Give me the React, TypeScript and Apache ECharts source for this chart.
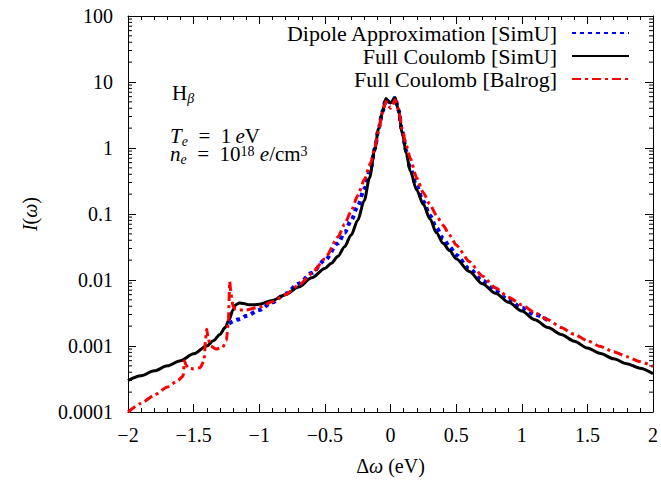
import React, { useEffect, useRef } from "react";
import * as echarts from "echarts";

// ---- data ----
const dipoleX = [-1.23, -1.15, -1.1, -1.0, -0.9, -0.8, -0.7, -0.6, -0.5, -0.4, -0.35, -0.3, -0.25, -0.2, -0.15, -0.12, -0.09, -0.06, -0.035, -0.015, 0, 0.015, 0.035, 0.06, 0.09, 0.12, 0.15, 0.2, 0.25, 0.3, 0.35, 0.4, 0.45, 0.5, 0.6, 0.7, 0.8, 0.9, 1.0, 1.1, 1.22];
const dipoleY = [2.2e-3, 2.55e-3, 2.85e-3, 3.5e-3, 4.6e-3, 6.2e-3, 8.8e-3, 0.0128, 0.02, 0.036, 0.052, 0.08, 0.13, 0.24, 0.5, 0.97, 2.0, 3.6, 5.6, 5.0, 4.8, 5.1, 5.8, 3.8, 1.75, 0.9, 0.5, 0.26, 0.155, 0.095, 0.062, 0.043, 0.032, 0.024, 0.0148, 0.0098, 0.0068, 0.005, 0.0038, 0.003, 0.0023];

const fcSimUX = [-2, -1.9, -1.8, -1.7, -1.6, -1.5, -1.4, -1.35, -1.3, -1.26, -1.23, -1.2, -1.18, -1.15, -1.12, -1.08, -1.04, -1.0, -0.9, -0.8, -0.7, -0.6, -0.5, -0.45, -0.4, -0.35, -0.3, -0.25, -0.2, -0.16, -0.12, -0.09, -0.06, -0.035, -0.015, 0, 0.015, 0.035, 0.06, 0.09, 0.12, 0.15, 0.2, 0.25, 0.3, 0.35, 0.4, 0.45, 0.5, 0.6, 0.7, 0.8, 0.9, 1.0, 1.1, 1.2, 1.3, 1.4, 1.5, 1.6, 1.7, 1.8, 1.9, 2.0];
const fcSimUY = [3.0e-4, 3.55e-4, 4.2e-4, 5.0e-4, 6.0e-4, 7.6e-4, 1.0e-3, 1.2e-3, 1.5e-3, 1.9e-3, 2.5e-3, 3.5e-3, 4.2e-3, 4.5e-3, 4.4e-3, 4.2e-3, 4.2e-3, 4.3e-3, 4.9e-3, 6.0e-3, 7.8e-3, 1.08e-2, 1.5e-2, 1.8e-2, 2.3e-2, 3.2e-2, 4.8e-2, 8.0e-2, 0.16, 0.35, 0.95, 2.0, 3.6, 5.6, 5.0, 4.8, 5.1, 5.8, 3.8, 1.7, 0.85, 0.45, 0.23, 0.14, 0.085, 0.052, 0.036, 0.028, 0.021, 0.0135, 0.0088, 0.0063, 0.0046, 0.0034, 0.0025, 0.0019, 0.0015, 0.00118, 0.00093, 0.00077, 0.00064, 0.00054, 0.00046, 0.00038];

const balrogX = [-2, -1.9, -1.8, -1.7, -1.62, -1.58, -1.57, -1.56, -1.54, -1.5, -1.45, -1.42, -1.41, -1.40, -1.39, -1.37, -1.33, -1.28, -1.25, -1.235, -1.225, -1.215, -1.2, -1.18, -1.15, -1.1, -1.0, -0.9, -0.8, -0.7, -0.6, -0.5, -0.4, -0.35, -0.3, -0.25, -0.2, -0.15, -0.12, -0.09, -0.06, -0.035, -0.015, 0, 0.015, 0.035, 0.06, 0.09, 0.12, 0.15, 0.2, 0.25, 0.3, 0.35, 0.4, 0.45, 0.5, 0.6, 0.7, 0.8, 0.9, 1.0, 1.1, 1.2, 1.3, 1.4, 1.5, 1.6, 1.7, 1.8, 1.9, 2.0];
const balrogY = [1.0e-4, 1.35e-4, 1.8e-4, 2.4e-4, 3.0e-4, 3.5e-4, 6.0e-4, 5.2e-4, 4.6e-4, 4.5e-4, 4.7e-4, 6e-4, 1.2e-3, 1.8e-3, 1.3e-3, 1.0e-3, 9.0e-4, 9.5e-4, 1.2e-3, 2.5e-3, 9.5e-3, 6.0e-3, 4.0e-3, 3.6e-3, 3.5e-3, 3.5e-3, 3.9e-3, 4.7e-3, 6.0e-3, 8.3e-3, 0.0125, 0.021, 0.045, 0.07, 0.11, 0.19, 0.33, 0.6, 1.0, 1.9, 3.5, 5.1, 4.4, 4.0, 4.5, 5.4, 3.9, 1.9, 1.1, 0.7, 0.35, 0.21, 0.14, 0.095, 0.068, 0.048, 0.034, 0.019, 0.0115, 0.0076, 0.0055, 0.0042, 0.0032, 0.0025, 0.0019, 0.0015, 0.0012, 0.00098, 0.00082, 0.00069, 0.00058, 0.00049];

const seriesNames = ["Dipole Approximation [SimU]", "Full Coulomb [SimU]", "Full Coulomb [Balrog]"];
const xMin = -2;
const xMax = 2;
const yMin = 1e-4;
const yMax = 100;
const decades = [1e-4, 1e-3, 1e-2, 1e-1, 1, 10];
const minorMultipliers = [2, 3, 4, 5, 6, 7, 8, 9];

const FONT = "'Liberation Serif', 'DejaVu Serif', serif";
const FS = 20;
const LFS = 22;
const AFS = 21;

const pairs = (xs: number[], ys: number[]) => xs.map((x, i) => [x, ys[i]]);

const fmtX = (v: number) => {
  const s = String(Math.round(v * 10) / 10);
  return s.replace("-", "\u2212");
};
const fmtY = (v: number) => {
  const e = Math.round(Math.log10(v));
  return e >= 0 ? String(Math.pow(10, e)) : "0." + "0".repeat(-e - 1) + "1";
};

export default function App() {
  const ref = useRef<HTMLDivElement>(null);
  useEffect(() => {
    if (!ref.current) return;
    const chart = echarts.init(ref.current, null, { renderer: "svg" });

    const minorVals: number[][] = [];
    decades.forEach((d) => minorMultipliers.forEach((m) => minorVals.push([xMin, d * m])));

    const commonX = {
      type: "value",
      min: xMin,
      max: xMax,
      interval: 0.5,
      axisLine: { show: true, onZero: false, lineStyle: { color: "#000", width: 1 } },
      axisTick: { show: true, inside: true, length: 8, lineStyle: { color: "#000" } },
      minorTick: { show: true, splitNumber: 5, length: 4, lineStyle: { color: "#000" } },
      splitLine: { show: false },
    };
    const commonY = {
      type: "log",
      logBase: 10,
      min: yMin,
      max: yMax,
      splitNumber: 6,
      axisLine: { show: true, onZero: false, lineStyle: { color: "#000", width: 1 } },
      axisTick: { show: true, inside: true, length: 8, lineStyle: { color: "#000" } },
      splitLine: { show: false },
    };

    const richMain = {
      r: { fontFamily: FONT, fontSize: AFS, lineHeight: 18, fill: "#000" },
      i: { fontFamily: FONT, fontSize: AFS, lineHeight: 18, fontStyle: "italic", fill: "#000" },
      sub: { fontFamily: FONT, fontSize: 14, lineHeight: 10, fontStyle: "italic", verticalAlign: "top", padding: [8, 0, 0, 0], fill: "#000" },
      sup: { fontFamily: FONT, fontSize: 14, lineHeight: 10, verticalAlign: "top", fill: "#000" },
    };

    const option: any = {
      animation: false,
      backgroundColor: "#fff",
      grid: { left: 128, right: 5, top: 16, bottom: 69, containLabel: false },
      legend: {
        data: seriesNames,
        orient: "vertical",
        align: "right",
        right: 31,
        top: 22,
        padding: 0,
        itemGap: 1,
        itemWidth: 57,
        itemHeight: 19,
        selectedMode: false,
        itemStyle: { color: "rgba(0,0,0,0)", borderColor: "rgba(0,0,0,0)", borderWidth: 0 },
        textStyle: { fontFamily: FONT, fontSize: LFS, color: "#000", lineHeight: 19, padding: [0, 10, 0, 0] },
      },
      xAxis: [
        {
          ...commonX,
          position: "bottom",
          axisLabel: { show: true, formatter: fmtX, fontFamily: FONT, fontSize: FS, color: "#000", margin: 13 },
          name: "\u0394{i|\u03c9} (eV)",
          nameLocation: "middle",
          nameGap: 44,
          nameTextStyle: {
            fontFamily: FONT,
            fontSize: FS,
            color: "#000",
            rich: { i: { fontFamily: FONT, fontSize: FS, fontStyle: "italic", color: "#000" } },
          },
        },
        { ...commonX, position: "top", axisLabel: { show: false } },
      ],
      yAxis: [
        {
          ...commonY,
          position: "left",
          axisLabel: { show: true, formatter: fmtY, fontFamily: FONT, fontSize: FS, color: "#000", margin: 15 },
          name: "{i|I}({i|\u03c9})",
          nameLocation: "middle",
          nameGap: 88,
          nameRotate: 90,
          nameTextStyle: {
            fontFamily: FONT,
            fontSize: FS,
            color: "#000",
            rich: { i: { fontFamily: FONT, fontSize: FS, fontStyle: "italic", color: "#000" } },
          },
        },
        { ...commonY, position: "right", axisLabel: { show: false } },
      ],
      series: [
        {
          type: "custom",
          name: "minorLogTicks",
          xAxisIndex: 0,
          yAxisIndex: 0,
          silent: true,
          clip: false,
          data: minorVals,
          renderItem: (params: any, api: any) => {
            const v = api.value(1);
            const pL = api.coord([xMin, v]);
            const pR = api.coord([xMax, v]);
            const st = { stroke: "#000", lineWidth: 1 };
            return {
              type: "group",
              children: [
                { type: "line", shape: { x1: pL[0], y1: pL[1], x2: pL[0] + 4, y2: pL[1] }, style: st },
                { type: "line", shape: { x1: pR[0] - 4, y1: pR[1], x2: pR[0], y2: pR[1] }, style: st },
              ],
            };
          },
        },
        {
          name: seriesNames[0],
          type: "line",
          data: pairs(dipoleX, dipoleY),
          symbol: "none",
          smooth: 0.3,
          smoothMonotone: "x",
          lineStyle: { color: "#0000ff", width: 4, type: [4, 4], cap: "butt" },
          itemStyle: { color: "#0000ff" },
          z: 3,
        },
        {
          name: seriesNames[1],
          type: "line",
          data: pairs(fcSimUX, fcSimUY),
          symbol: "none",
          smooth: 0.3,
          smoothMonotone: "x",
          lineStyle: { color: "#000000", width: 3, type: "solid" },
          itemStyle: { color: "#000000" },
          z: 4,
        },
        {
          name: seriesNames[2],
          type: "line",
          data: pairs(balrogX, balrogY),
          symbol: "none",
          smooth: 0.2,
          smoothMonotone: "x",
          lineStyle: { color: "#ff0000", width: 3, type: [9, 4, 3, 4], cap: "butt" },
          itemStyle: { color: "#ff0000" },
          z: 5,
        },
      ],
      graphic: [
        {
          type: "text",
          left: 172,
          top: 82,
          style: {
            text: "{r|H}{sub|\u03b2}",
            rich: richMain,
          },
        },
        {
          type: "text",
          left: 170,
          top: 125,
          style: {
            text: "{i|T}{sub|e}{r|\u2002=\u20021\u2009}{i|e}{r|V}\n{i|n}{sub|e}{r|\u2002=\u200210}{sup|18}{r| }{i|e}{r|/cm}{sup|3}",
            rich: richMain,
          },
        },
      ],
    };
    chart.setOption(option);
    return () => chart.dispose();
  }, []);
  return <div ref={ref} style={{ width: 661, height: 481, position: "absolute", left: 0, top: 0 }} />;
}
